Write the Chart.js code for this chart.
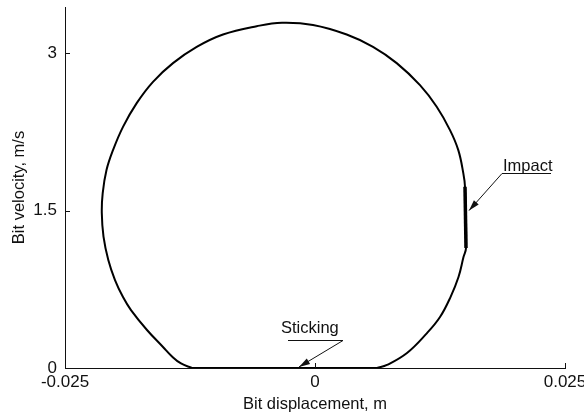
<!DOCTYPE html>
<html>
<head>
<meta charset="utf-8">
<script src="https://cdn.jsdelivr.net/npm/chart.js@4/dist/chart.umd.min.js"></script>
<style>
  html, body { margin: 0; padding: 0; background: #fff; }
  #wrap { width: 584px; height: 416px; position: relative; }
</style>
</head>
<body>
<div id="wrap"><canvas id="c" width="584" height="416"></canvas></div>
<script>
// Bit phase trajectory: displacement (m) vs velocity (m/s)
const displacement = [
  -0.01230, -0.01340, -0.01430, -0.01520, -0.01680, -0.01840, -0.01920, -0.02000,
  -0.02067, -0.02115, -0.02132, -0.02123, -0.02085, -0.02020, -0.01920, -0.01783,
  -0.01620, -0.01420, -0.01183, -0.00920, -0.00583, -0.00330, -0.00020, 0.00317,
  0.00580, 0.00817, 0.01050, 0.01217, 0.01350, 0.01433, 0.01483, 0.01500,
  0.01510, 0.01485, 0.01435, 0.01355, 0.01250, 0.01120, 0.00920, 0.00720, 0.00620
];
const velocity = [
  0.000, 0.043, 0.110, 0.200, 0.362, 0.552, 0.676, 0.838,
  1.029, 1.251, 1.476, 1.667, 1.886, 2.076, 2.298, 2.524,
  2.727, 2.905, 3.060, 3.178, 3.257, 3.290, 3.269, 3.178,
  3.060, 2.905, 2.695, 2.489, 2.267, 2.076, 1.857, 1.727,
  1.143, 1.057, 0.867, 0.676, 0.486, 0.333, 0.143, 0.029, 0.000
];
// Impact: velocity drop at nearly constant displacement
const impactDisplacement = [0.01500, 0.01510];
const impactVelocity = [1.727, 1.143];
// Sticking: bit at rest between the two branches
const stickDisplacement = [0.00620, -0.01230];
const stickVelocity = [0, 0];

const xTicks = [-0.025, 0, 0.025];
const yTicks = [0, 1.5, 3];

// Callouts: label position, underline, arrow tip (data units)
const callouts = [
  { text: 'Impact',   tx: 0.0188, ty: 1.93, ux0: 0.0187, ux1: 0.0236, uy: 1.86, ax: 0.0154, ay: 1.50, from: 'start' },
  { text: 'Sticking', tx: -0.0034, ty: 0.395, ux0: -0.0027, ux1: 0.0028, uy: 0.27, ax: -0.0016, ay: 0.01, from: 'end' }
];

const FONT = '"Liberation Sans", Arial, Helvetica, sans-serif';
const INK = '#111';

const toPoints = (xs, ys) => xs.map((x, i) => ({ x: x, y: ys[i] }));

// Inward tick marks and the callout annotations
const decorations = {
  id: 'decorations',
  afterDraw(chart) {
    const { ctx, scales: { x, y } } = chart;
    ctx.save();
    ctx.strokeStyle = INK;
    ctx.lineWidth = 1;
    const x0 = x.getPixelForValue(x.min);
    const y0 = y.getPixelForValue(0);
    yTicks.forEach(v => {
      if (v === 0) return;
      const py = Math.round(y.getPixelForValue(v)) + 0.5;
      ctx.beginPath(); ctx.moveTo(x0, py); ctx.lineTo(x0 + 5, py); ctx.stroke();
    });
    xTicks.forEach(v => {
      if (v === x.min) return;
      const px = Math.round(x.getPixelForValue(v)) + 0.5;
      ctx.beginPath(); ctx.moveTo(px, y0); ctx.lineTo(px, y0 - 5); ctx.stroke();
    });

    ctx.font = '16.5px ' + FONT;
    ctx.fillStyle = INK;
    ctx.textBaseline = 'alphabetic';
    ctx.textAlign = 'left';
    callouts.forEach(c => {
      const ux0 = x.getPixelForValue(c.ux0), ux1 = x.getPixelForValue(c.ux1);
      const uy = Math.round(y.getPixelForValue(c.uy)) + 0.5;
      ctx.fillText(c.text, x.getPixelForValue(c.tx), y.getPixelForValue(c.ty) + 6);
      ctx.beginPath(); ctx.moveTo(ux0, uy); ctx.lineTo(ux1, uy); ctx.stroke();
      const sx = c.from === 'start' ? ux0 : ux1;
      const ax = x.getPixelForValue(c.ax), ay = y.getPixelForValue(c.ay);
      ctx.beginPath(); ctx.moveTo(sx, uy); ctx.lineTo(ax, ay); ctx.stroke();
      const ang = Math.atan2(ay - uy, ax - sx);
      const L = 11, W = 3.2;
      ctx.beginPath();
      ctx.moveTo(ax, ay);
      ctx.lineTo(ax - L * Math.cos(ang) + W * Math.sin(ang), ay - L * Math.sin(ang) - W * Math.cos(ang));
      ctx.lineTo(ax - L * Math.cos(ang) - W * Math.sin(ang), ay - L * Math.sin(ang) + W * Math.cos(ang));
      ctx.closePath();
      ctx.fill();
    });
    ctx.restore();
  }
};

new Chart(document.getElementById('c'), {
  type: 'scatter',
  data: {
    datasets: [
      {
        data: toPoints(displacement, velocity),
        showLine: true, borderColor: '#000', borderWidth: 2,
        pointRadius: 0, tension: 0.4
      },
      {
        data: toPoints(impactDisplacement, impactVelocity),
        showLine: true, borderColor: '#000', borderWidth: 3.5,
        pointRadius: 0, tension: 0
      },
      {
        data: toPoints(stickDisplacement, stickVelocity),
        showLine: true, borderColor: '#000', borderWidth: 2,
        pointRadius: 0, tension: 0
      }
    ]
  },
  options: {
    responsive: false,
    animation: false,
    events: [],
    layout: { padding: { top: 7, right: 19, left: 0, bottom: 0 } },
    plugins: { legend: { display: false }, tooltip: { enabled: false } },
    scales: {
      x: {
        type: 'linear', min: -0.025, max: 0.025,
        afterBuildTicks: s => { s.ticks = xTicks.map(v => ({ value: v })); },
        afterFit: s => { s.height = 48; s.paddingLeft = 0; s.paddingRight = 0; },
        grid: { display: false, drawTicks: false },
        border: { display: true, color: INK, width: 1 },
        ticks: {
          color: INK, padding: 4, maxRotation: 0, autoSkip: false,
          font: { family: FONT, size: 17 },
          callback: v => (v === 0 ? '0' : String(v))
        },
        title: {
          display: true, text: 'Bit displacement, m', color: INK,
          font: { family: FONT, size: 16.5 }, padding: { top: 0, bottom: 2 }
        }
      },
      y: {
        type: 'linear', min: 0, max: 3.44,
        afterBuildTicks: s => { s.ticks = yTicks.map(v => ({ value: v })); },
        afterFit: s => { s.width = 65; s.paddingTop = 0; s.paddingBottom = 0; },
        grid: { display: false, drawTicks: false },
        border: { display: true, color: INK, width: 1 },
        ticks: {
          color: INK, padding: 8, autoSkip: false,
          font: { family: FONT, size: 17 },
          callback: v => String(v)
        },
        title: {
          display: true, text: 'Bit velocity, m/s', color: INK,
          font: { family: FONT, size: 16.5 }, padding: { top: 10, bottom: 0 }
        }
      }
    }
  },
  plugins: [decorations]
});
</script>
</body>
</html>
